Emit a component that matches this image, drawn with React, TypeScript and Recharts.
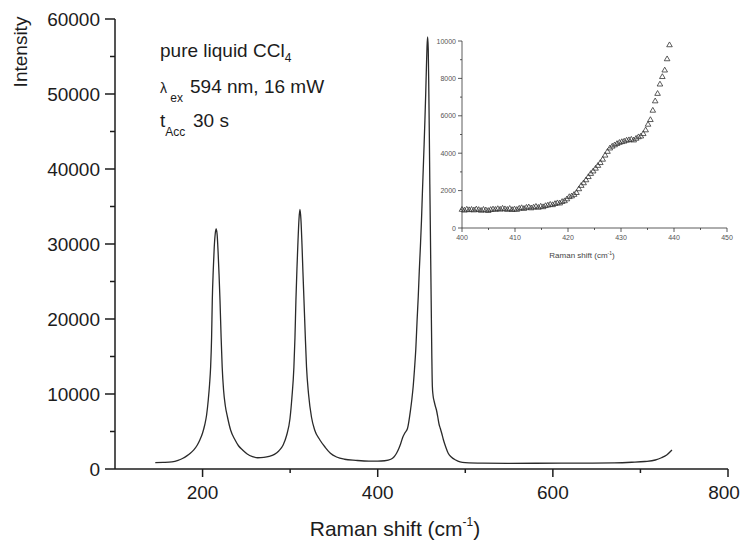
import { LineChart, Line, ScatterChart, Scatter, XAxis, YAxis } from "recharts";

// ── Data ──────────────────────────────────────────────────────────────────────
const MAIN_SHIFT = [
  146, 155, 165, 172, 177, 182, 186, 190, 194, 197, 200, 202.5, 204.6, 206.5, 208, 209.2, 210.3, 211.1,
  212.2, 213.3, 214.4, 215.5, 216.6, 217.7, 218.8, 219.9, 221.2, 222.4, 224, 226, 228.5, 232, 237, 241,
  246, 251, 257, 263, 270, 276, 282, 287, 292, 296, 299.8, 302, 304.3, 305.5, 306.6, 307.8, 309, 310.1,
  311.2, 312.3, 313.5, 314.6, 315.8, 317.2, 318.7, 321, 324.4, 328, 334, 340, 346, 353, 362, 375, 390,
  400, 408, 415, 418.5, 421.5, 424, 426, 428.5, 431, 434, 437.5, 439, 440.5, 442, 443.5, 445, 446.3,
  447.5, 448.8, 450, 451, 452, 453, 453.9, 454.8, 455.6, 456.3, 457, 457.7, 458.3, 458.9, 459.5, 460,
  460.6, 461.3, 461.8, 462.4, 463.2, 464.5, 466, 467, 468.5, 470, 471.5, 473, 475, 477.5, 480.5, 484,
  489, 494, 500, 520, 550, 580, 610, 640, 670, 690, 705, 717, 724, 730, 736,
];
const MAIN_COUNTS = [
  850, 880, 950, 1150, 1400, 1750, 2100, 2550, 3200, 3900, 4800, 5900, 7200, 9200, 11300, 13600, 17500, 22500,
  26500, 29500, 31300, 32000, 31300, 29000, 26000, 22500, 17500, 13600, 10500, 8400, 6900, 5200, 3900, 3100,
  2500, 2000, 1650, 1500, 1550, 1680, 1950, 2400, 3200, 4500, 6700, 9500, 13600, 17500, 22500, 26800, 30500, 33300,
  34600, 33300, 30000, 26300, 22500, 18000, 13600, 10000, 6900, 5200, 3870, 2900, 2100, 1600, 1300, 1150, 1050,
  1050, 1100, 1300, 1600, 2100, 2700, 3300, 4200, 4800, 5400, 7900, 9300, 11000, 13300, 16000, 19900, 23000,
  26500, 29800, 33200, 36700, 40000, 43300, 46500, 50000, 53500, 56300, 57600, 56000, 51000, 45000, 38000, 33200,
  27000, 19900, 15000, 11000, 9800, 9000, 8300, 7900, 7000, 6000, 5400, 4800, 3900, 3000, 2100, 1600,
  1200, 950, 850, 780, 760, 770, 780, 790, 820, 900, 1000, 1200, 1500, 1870, 2530,
];

const INSET_SHIFT = [
  400.0, 400.45, 400.9, 401.35, 401.8, 402.25, 402.7, 403.15, 403.6, 404.05, 404.5, 404.95, 405.4, 405.85,
  406.3, 406.75, 407.2, 407.65, 408.1, 408.55, 409.0, 409.45, 409.9, 410.35, 410.8, 411.25, 411.7, 412.15,
  412.6, 413.05, 413.5, 413.95, 414.4, 414.85, 415.3, 415.75, 416.2, 416.65, 417.1, 417.55, 418.0, 418.45,
  418.9, 419.35, 419.8, 420.25, 420.7, 421.15, 421.6, 422.05, 422.5, 422.95, 423.4, 423.85, 424.3, 424.75,
  425.2, 425.65, 426.1, 426.55, 427.0, 427.45, 427.9, 428.35, 428.8, 429.25, 429.7, 430.15, 430.6, 431.05,
  431.5, 431.95, 432.4, 432.85, 433.3, 433.75, 434.2, 434.65, 435.1, 435.55, 436.0, 436.45, 436.9, 437.35,
  437.8, 438.25, 438.7, 439.15,
];
const INSET_COUNTS = [
  1000, 960, 1010, 980, 1000, 970, 1020, 990, 950, 1000, 970, 940, 990, 1020,
  1000, 1040, 1010, 1060, 1030, 1000, 1050, 990, 1020, 1000, 1060, 1090, 1050, 1110,
  1130, 1080, 1120, 1160, 1110, 1170, 1140, 1200, 1230, 1270, 1250, 1310, 1350, 1340,
  1420, 1460, 1560, 1680, 1720, 1800, 1900, 2100, 2280, 2420, 2580, 2750, 2920, 3050,
  3200, 3350, 3500, 3680, 3900, 4100, 4280, 4380, 4450, 4520, 4580, 4620, 4650, 4700,
  4720, 4750, 4710, 4800, 4880, 4920, 5050, 5250, 5550, 5800, 6300, 6800, 7200, 7700,
  8100, 8450, 9050, 9800,
];

const MAIN_X_TICKS = [200, 300, 400, 500, 600, 700, 800];
const MAIN_Y_TICKS = [0, 5000, 10000, 15000, 20000, 25000, 30000, 35000, 40000, 45000, 50000, 55000, 60000];
const INSET_X_TICKS = [400, 405, 410, 415, 420, 425, 430, 435, 440, 445, 450];
const INSET_Y_TICKS = [0, 1000, 2000, 3000, 4000, 5000, 6000, 7000, 8000, 9000, 10000];

const mainData = MAIN_SHIFT.map((x, i) => ({ x, y: MAIN_COUNTS[i] }));
const insetData = INSET_SHIFT.map((x, i) => ({ x, y: INSET_COUNTS[i] }));

// ── Style ─────────────────────────────────────────────────────────────────────
const FONT = "Arial, 'Liberation Sans', sans-serif";
const INK = "#1c1c1c";

// ── Ticks ─────────────────────────────────────────────────────────────────────
function MainXTick({ x, y, payload }: any) {
  const major = payload.value % 200 === 0;
  // keep the last label inside the picture
  const tx = Math.min(x, 724);
  return (
    <g>
      <line x1={x} y1={y} x2={x} y2={y + (major ? 8 : 4)} stroke={INK} strokeWidth={1.5} />
      {major && (
        <text x={tx} y={y + 30} textAnchor="middle" fontSize={19} fontFamily={FONT} fill={INK}>
          {payload.value}
        </text>
      )}
    </g>
  );
}

function MainYTick({ x, y, payload }: any) {
  const major = payload.value % 10000 === 0;
  return (
    <g>
      <line x1={x - (major ? 10 : 5)} y1={y} x2={x} y2={y} stroke={INK} strokeWidth={1.5} />
      {major && (
        <text x={x - 15} y={y + 7} textAnchor="end" fontSize={19} fontFamily={FONT} fill={INK}>
          {payload.value}
        </text>
      )}
    </g>
  );
}

function InsetXTick({ x, y, payload }: any) {
  const major = payload.value % 10 === 0;
  return (
    <g>
      <line x1={x} y1={y} x2={x} y2={y + (major ? 4 : 2)} stroke="#333" strokeWidth={0.8} />
      {major && (
        <text x={x} y={y + 12} textAnchor="middle" fontSize={7} fontFamily={FONT} fill="#555">
          {payload.value}
        </text>
      )}
    </g>
  );
}

function InsetYTick({ x, y, payload }: any) {
  const major = payload.value % 2000 === 0;
  return (
    <g>
      <line x1={x - (major ? 4 : 2)} y1={y} x2={x} y2={y} stroke="#333" strokeWidth={0.8} />
      {major && (
        <text x={x - 6} y={y + 2.5} textAnchor="end" fontSize={7} fontFamily={FONT} fill="#555">
          {payload.value}
        </text>
      )}
    </g>
  );
}

function Triangle({ cx, cy }: any) {
  return (
    <path
      d={`M${cx},${cy - 2.8} L${cx + 2.8},${cy + 2} L${cx - 2.8},${cy + 2} Z`}
      fill="none" stroke="#333" strokeWidth={0.8}
    />
  );
}

// ── Main ──────────────────────────────────────────────────────────────────────
export default function App() {
  return (
    <div style={{ position: "absolute", left: 0, top: 0, width: 742, height: 540, background: "#fff" }}>
      <div style={{ position: "absolute", left: 0, top: 0 }}>
        <LineChart width={742} height={540} data={mainData} margin={{ top: 19, right: 14, bottom: 0, left: 0 }}>
          <XAxis
            dataKey="x" type="number" domain={[100, 800]} ticks={MAIN_X_TICKS} interval={0}
            height={71} tickSize={0} tickMargin={0} tickLine={false}
            axisLine={{ stroke: INK, strokeWidth: 1.5 }} tick={<MainXTick />} allowDataOverflow
          />
          <YAxis
            dataKey="y" type="number" domain={[0, 60000]} ticks={MAIN_Y_TICKS} interval={0}
            width={115} tickSize={0} tickMargin={0} tickLine={false}
            axisLine={{ stroke: INK, strokeWidth: 1.5 }} tick={<MainYTick />} allowDataOverflow
          />
          <Line
            dataKey="y" type="monotone" stroke="#2a2a2a" strokeWidth={1.3}
            dot={false} isAnimationActive={false}
          />
        </LineChart>
      </div>

      {/* inset */}
      <div style={{ position: "absolute", left: 420, top: 30 }}>
        <ScatterChart width={320} height={240} margin={{ top: 11, right: 13, bottom: 12, left: 0 }}>
          <XAxis
            dataKey="x" type="number" domain={[400, 450]} ticks={INSET_X_TICKS} interval={0}
            height={30} tickSize={0} tickMargin={0} tickLine={false}
            axisLine={{ stroke: "#333", strokeWidth: 0.8 }} tick={<InsetXTick />}
          />
          <YAxis
            dataKey="y" type="number" domain={[0, 10000]} ticks={INSET_Y_TICKS} interval={0}
            width={42} tickSize={0} tickMargin={0} tickLine={false}
            axisLine={{ stroke: "#333", strokeWidth: 0.8 }} tick={<InsetYTick />}
          />
          <Scatter data={insetData} shape={<Triangle />} isAnimationActive={false} />
        </ScatterChart>
      </div>

      {/* labels */}
      <svg width={742} height={540} style={{ position: "absolute", left: 0, top: 0, pointerEvents: "none" }}>
        <g fontFamily={FONT} fill={INK}>
          <text x={27} y={52} fontSize={19} textAnchor="middle" transform="rotate(-90 27 52)">Intensity</text>
          <text x={395} y={536} fontSize={21} textAnchor="middle">
            Raman shift (cm<tspan fontSize={12} dy={-10}>-1</tspan><tspan dy={10}>)</tspan>
          </text>

          <text x={160} y={57} fontSize={19}>
            pure liquid CCl<tspan fontSize={12} dy={5}>4</tspan>
          </text>
          <text x={160} y={93} fontSize={14}>
            λ<tspan fontSize={12} dy={9}> ex</tspan>
          </text>
          <text x={190} y={93} fontSize={19}>594 nm, 16 mW</text>
          <text x={160} y={127} fontSize={19}>
            t<tspan fontSize={12} dy={9}>Acc</tspan>
          </text>
          <text x={193} y={127} fontSize={19}>30 s</text>

          <text x={582} y={258} fontSize={8} textAnchor="middle" fill="#444">
            Raman shift (cm<tspan fontSize={5} dy={-3}>-1</tspan><tspan dy={3}>)</tspan>
          </text>
        </g>
      </svg>
    </div>
  );
}
